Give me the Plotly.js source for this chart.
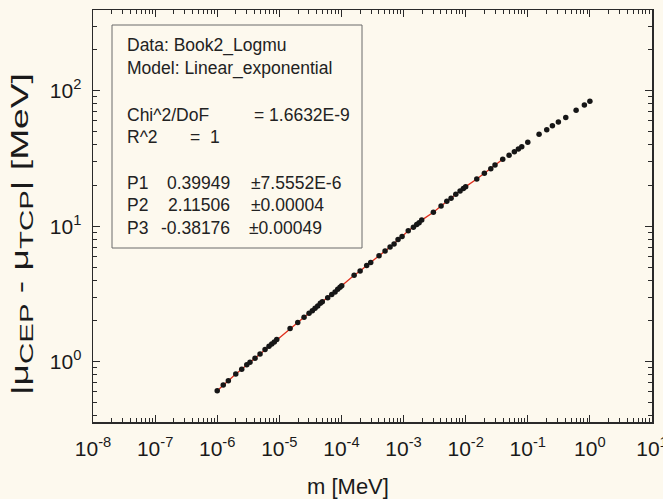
<!DOCTYPE html>
<html>
<head>
<meta charset="utf-8">
<script src="https://cdn.plot.ly/plotly-3.0.1.min.js"></script>
<style>html,body{margin:0;padding:0;background:#fdf9ee;}#chart{width:663px;height:499px;}</style>
</head>
<body>
<div id="chart"></div>
<script>
// m [MeV]
var mValues = [1.0e-6,1.25e-6,1.51e-6,1.99e-6,2.48e-6,2.99e-6,3.37e-6,4.06e-6,4.89e-6,5.89e-6,
  6.82e-6,7.55e-6,8.30e-6,9.08e-6,1.49e-5,1.98e-5,2.50e-5,3.01e-5,3.40e-5,3.76e-5,
  4.15e-5,4.57e-5,4.92e-5,6.01e-5,6.98e-5,7.89e-5,8.71e-5,9.48e-5,1.01e-4,1.60e-4,
  2.00e-4,2.55e-4,2.96e-4,4.03e-4,5.04e-4,6.07e-4,7.03e-4,8.15e-4,9.46e-4,1.19e-3,
  1.44e-3,1.63e-3,1.78e-3,1.96e-3,3.02e-3,4.02e-3,4.97e-3,5.82e-3,6.94e-3,8.13e-3,
  9.19e-3,1.00e-2,1.51e-2,2.00e-2,2.54e-2,2.97e-2,3.95e-2,5.00e-2,6.08e-2,7.06e-2,
  8.00e-2,0.100,0.152,0.202,0.249,0.311,0.409,0.600,0.815,1.0];
// |mu_CEP - mu_TCP| [MeV]
var dMu = [0.611,0.673,0.724,0.811,0.879,0.950,0.990,1.06,1.14,1.23,
  1.30,1.35,1.40,1.46,1.76,1.95,2.13,2.28,2.38,2.48,
  2.58,2.70,2.77,2.97,3.14,3.27,3.42,3.54,3.64,4.34,
  4.67,5.14,5.41,6.06,6.56,7.02,7.39,7.98,8.40,9.27,
  9.81,10.3,10.6,11.1,12.7,14.1,15.3,16.1,17.2,18.2,
  19.0,19.6,22.3,24.6,26.6,28.3,31.2,33.4,35.5,37.1,
  38.6,41.6,47.7,51.5,55.2,58.7,63.6,71.7,78.4,83.5];
var fitMaxM = 0.04; // fitted range upper end
var xExponents = [-8,-7,-6,-5,-4,-3,-2,-1,0,1];
var yExponents = [0,1,2];

var fitX = [], fitY = [];
for (var i = 0; i < mValues.length; i++) {
  if (mValues[i] <= fitMaxM) { fitX.push(mValues[i]); fitY.push(dMu[i]); }
}
function powLabels(exps){ return exps.map(function(e){ return '10<sup>' + (e<0?'-':'') + Math.abs(e) + '</sup>'; }); }
function powVals(exps){ return exps.map(function(e){ return Math.pow(10, e); }); }

var FONT = '"Liberation Sans", Arial, sans-serif';
var BG = '#fdf9ee';
var L = 93, R = 652, T = 10, B = 422;
function px(p){ return (p - L) / (R - L); }
function py(p){ return (B - p) / (B - T); }

var traces = [
  {x: fitX, y: fitY, mode: 'lines', type: 'scatter', line: {color: '#e0301e', width: 1.3}, hoverinfo: 'skip'},
  {x: mValues, y: dMu, mode: 'markers', type: 'scatter', marker: {color: '#161616', size: 5.5}}
];

var axisCommon = {
  type: 'log', showgrid: false, zeroline: false,
  showline: true, linecolor: '#2a2a2a', linewidth: 1.5, mirror: 'ticks',
  ticks: 'inside', ticklen: 7, tickwidth: 1, tickcolor: '#2a2a2a',
  tickmode: 'array', ticklabeloverflow: 'allow', ticklabelstandoff: 7,
  tickfont: {family: FONT, size: 21, color: '#1a1a1a'},
  minor: {ticks: 'inside', ticklen: 4, tickwidth: 1, tickcolor: '#2a2a2a', dtick: 'D1', showgrid: false}
};

var layout = {
  width: 663, height: 499,
  margin: {l: L, r: 663 - R, t: T, b: 499 - B},
  paper_bgcolor: BG, plot_bgcolor: BG,
  showlegend: false,
  font: {family: FONT},
  xaxis: Object.assign({}, axisCommon, {
    range: [-8, 1],
    tickvals: powVals(xExponents), ticktext: powLabels(xExponents)
  }),
  yaxis: Object.assign({}, axisCommon, {
    range: [-0.445, 2.596], ticklabelstandoff: 6,
    tickvals: powVals(yExponents), ticktext: powLabels(yExponents)
  }),
  shapes: [
    {type: 'rect', xref: 'paper', yref: 'paper', x0: px(112), x1: px(362), y0: py(248), y1: py(25),
     line: {color: '#6a6a6a', width: 1}, fillcolor: 'rgba(0,0,0,0)'}
  ],
  annotations: []
};

function ann(text, x, y, anchor) {
  layout.annotations.push({text: text, xref: 'paper', yref: 'paper', x: px(x), y: py(y),
    xanchor: anchor || 'left', yanchor: 'middle', showarrow: false,
    font: {family: FONT, size: 17.5, color: '#222'}});
}
ann('Data: Book2_Logmu', 125, 46);
ann('Model: Linear_exponential', 125, 68);
ann('Chi^2/DoF', 125, 115);
ann('= 1.6632E-9', 252, 115);
ann('R^2', 125, 137);
ann('=  1', 188, 137);
ann('P1', 125, 183);
ann('P2', 125, 205);
ann('P3', 125, 228);
ann('0.39949', 232, 183, 'right');
ann('2.11506', 232, 205, 'right');
ann('-0.38176', 232, 228, 'right');
ann('±7.5552E-6', 249, 183);
ann('±0.00004', 249, 205);
ann('±0.00049', 247, 228);

layout.annotations.push({text: 'm [MeV]', xref: 'paper', yref: 'paper', x: px(348), y: py(486),
  xanchor: 'center', yanchor: 'middle', showarrow: false, font: {family: FONT, size: 22, color: '#1a1a1a'}});
layout.annotations.push({text: '|μ<sub><span style="font-size:19px">CEP</span></sub> - μ<sub><span style="font-size:19px">TCP</span></sub>| [MeV]',
  xref: 'paper', yref: 'paper',
  x: px(21), y: py(234), xanchor: 'center', yanchor: 'middle', textangle: -90, showarrow: false,
  font: {family: FONT, size: 24, color: '#1a1a1a'}});

Plotly.newPlot('chart', traces, layout, {displayModeBar: false, staticPlot: true}).then(function(gd){
  var texts = gd.querySelectorAll('text.annotation-text');
  var yt = texts[texts.length - 1];
  if (yt) { yt.setAttribute('textLength', '322'); yt.setAttribute('lengthAdjust', 'spacingAndGlyphs'); }
});
</script>
</body>
</html>
